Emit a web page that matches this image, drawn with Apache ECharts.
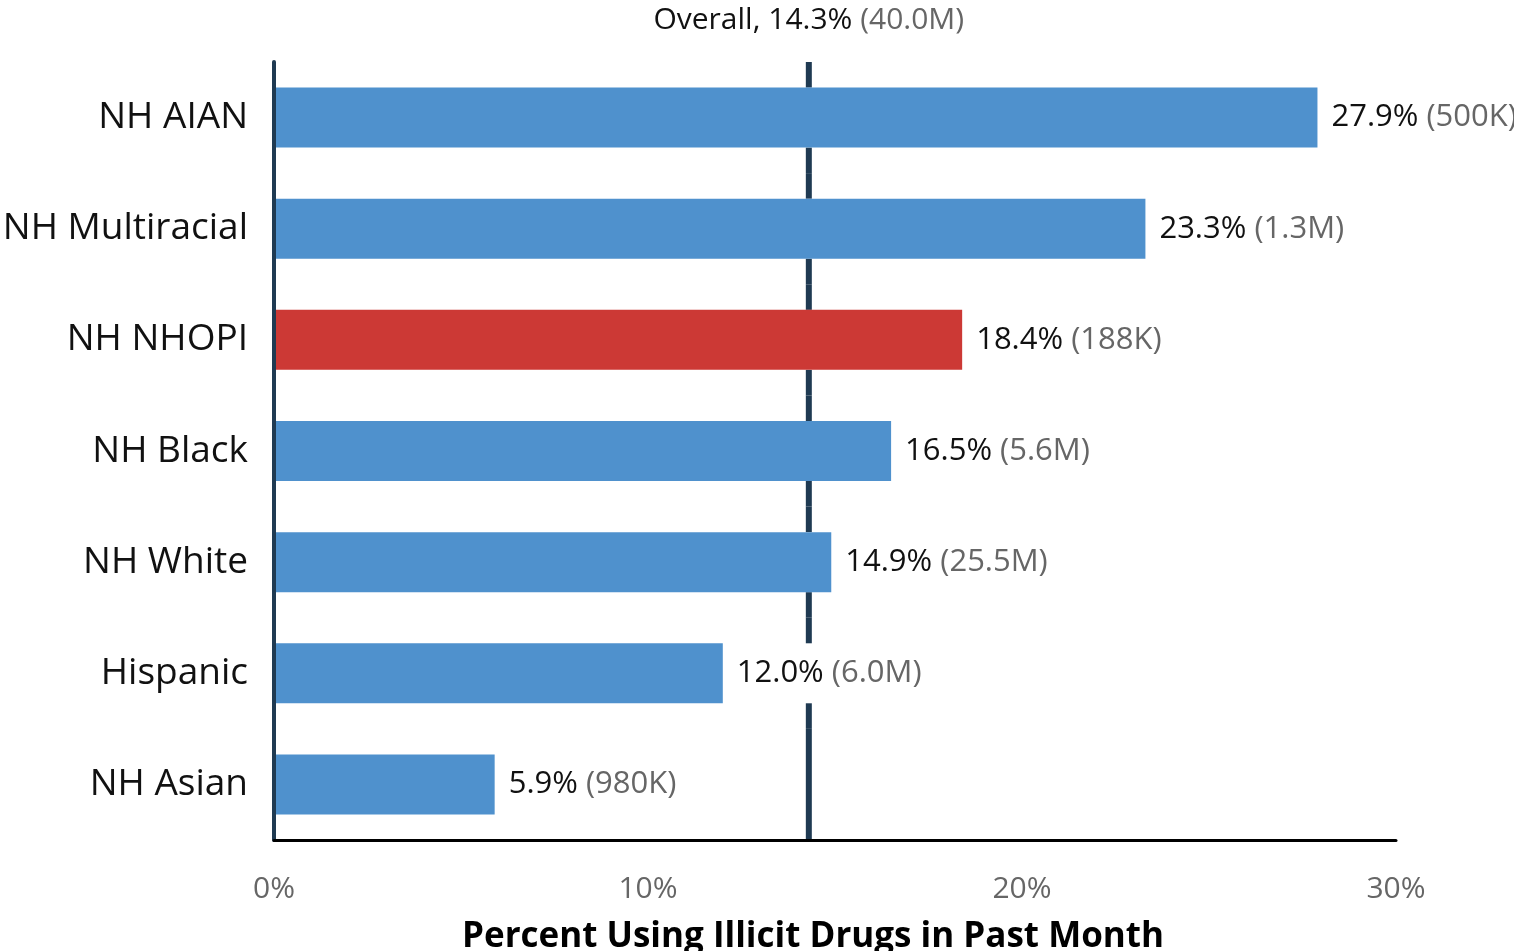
<!DOCTYPE html>
<html>
<head>
<meta charset="utf-8">
<script src="https://cdn.jsdelivr.net/npm/echarts@6/dist/echarts.min.js"></script>
<style>html,body{margin:0;padding:0;background:#fff;}#c{width:1514px;height:951px;}</style>
</head>
<body>
<div id="c"></div>
<script>
const categories = ['NH AIAN', 'NH Multiracial', 'NH NHOPI', 'NH Black', 'NH White', 'Hispanic', 'NH Asian'];
const percents = [27.9, 23.3, 18.4, 16.5, 14.9, 12.0, 5.9];
const counts = ['500K', '1.3M', '188K', '5.6M', '25.5M', '6.0M', '980K'];
const highlighted = ['NH NHOPI'];
const overallPercent = 14.3;
const overallCount = '40.0M';
const xTicks = [0, 10, 20, 30];
const axisTitle = 'Percent Using Illicit Drugs in Past Month';

const FONT = '"Open Sans", "Noto Sans", sans-serif';
const BLUE = '#4f91cd', RED = '#cc3935', NAVY = '#1f3a52';
const BAR_W = 60, LABEL_GAP = 14, LABEL_SIZE = 31;

// measure bar-label widths so the reference line can pass behind them
const mctx = document.createElement('canvas').getContext('2d');
mctx.font = LABEL_SIZE + 'px ' + FONT;
const labelText = i => percents[i].toFixed(1) + '% (' + counts[i] + ')';
const labelWidths = categories.map((c, i) => mctx.measureText(labelText(i)).width);

const chart = echarts.init(document.getElementById('c'), null, {renderer: 'canvas'});
chart.setOption({
  animation: false,
  textStyle: {fontFamily: FONT},
  grid: {left: 274, right: 118, top: 62, bottom: 111, containLabel: false, outerBoundsMode: 'none'},
  xAxis: {
    type: 'value', min: xTicks[0], max: xTicks[xTicks.length - 1], interval: 10,
    z: 20,
    axisLine: {show: true, lineStyle: {color: '#000', width: 3}},
    axisTick: {show: false},
    splitLine: {show: false},
    axisLabel: {formatter: '{value}%', color: '#666', fontSize: 30, margin: 34, fontFamily: FONT},
    name: axisTitle, nameLocation: 'middle', nameGap: 80,
    nameTextStyle: {fontSize: 35, fontWeight: 'bold', color: '#000', fontFamily: FONT, padding: [0, 44, 0, 0]}
  },
  yAxis: {
    type: 'category', data: categories, inverse: true,
    z: 20,
    axisLine: {show: true, lineStyle: {color: NAVY, width: 4}},
    axisTick: {show: false},
    axisLabel: {fontSize: 37, color: '#111', margin: 26, fontFamily: FONT}
  },
  series: [
    {
      type: 'custom', z: 1, silent: true,
      data: categories.map((c, i) => [overallPercent, i]),
      encode: {x: 0, y: 1},
      renderItem: (params, api) => {
        const i = api.value(1);
        const p = api.coord([api.value(0), i]);
        const x = p[0], yc = p[1];
        const band = api.size([0, 1])[1];
        const top = yc - band / 2, bot = yc + band / 2;
        const barEnd = api.coord([percents[i], i])[0];
        const labelEnd = barEnd + LABEL_GAP + labelWidths[i] + 4;
        const covered = x <= labelEnd;
        const ls = {stroke: NAVY, lineWidth: 6};
        const children = [];
        if (covered) {
          children.push({type: 'line', shape: {x1: x, y1: top, x2: x, y2: yc - BAR_W / 2}, style: ls});
          children.push({type: 'line', shape: {x1: x, y1: yc + BAR_W / 2, x2: x, y2: bot}, style: ls});
        } else {
          children.push({type: 'line', shape: {x1: x, y1: top, x2: x, y2: bot}, style: ls});
        }
        if (params.dataIndex === 0) {
          children.push({
            type: 'text',
            style: {
              x: x, y: top - 42, align: 'center', verticalAlign: 'middle',
              text: '{v|Overall, ' + overallPercent.toFixed(1) + '% }{c|(' + overallCount + ')}',
              rich: {
                v: {fontSize: 30, fill: '#111', fontFamily: FONT},
                c: {fontSize: 30, fill: '#666', fontFamily: FONT}
              }
            }
          });
        }
        return {type: 'group', children: children};
      }
    },
    {
      type: 'bar', z: 10, barWidth: BAR_W,
      data: percents.map((v, i) => ({
        value: v,
        itemStyle: {color: highlighted.includes(categories[i]) ? RED : BLUE}
      })),
      label: {
        show: true, position: 'right', distance: LABEL_GAP,
        formatter: p => '{v|' + percents[p.dataIndex].toFixed(1) + '% }{c|(' + counts[p.dataIndex] + ')}',
        rich: {
          v: {fontSize: LABEL_SIZE, color: '#111', fontFamily: FONT},
          c: {fontSize: LABEL_SIZE, color: '#666', fontFamily: FONT}
        }
      }
    }
  ]
});
</script>
</body>
</html>
